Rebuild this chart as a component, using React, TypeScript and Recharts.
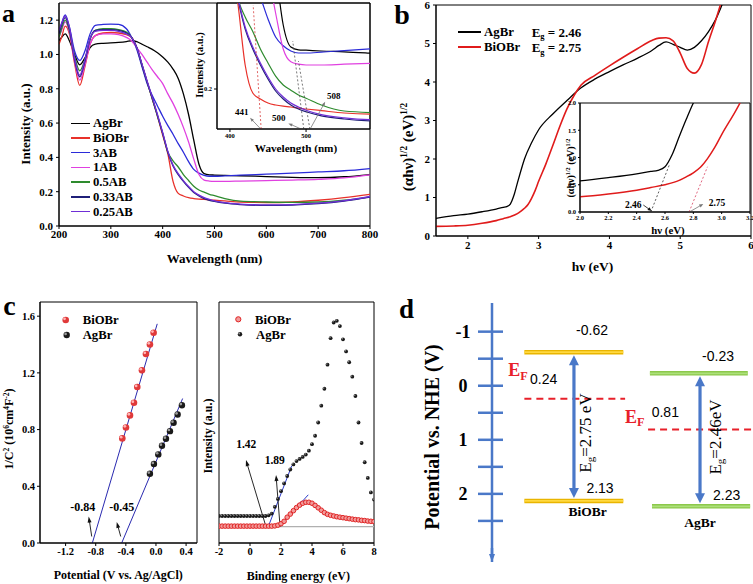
import React from 'react';
import { LineChart, Line, XAxis, YAxis, ReferenceLine, ReferenceArea, ComposedChart, Scatter } from 'recharts';

const SERIF = '"Liberation Serif", "Times New Roman", Times, serif';
const SANS = '"Liberation Sans", Arial, Helvetica, sans-serif';

/* ---------------- Panel a : UV-vis DRS ---------------- */
const aWavelength = [200, 205, 212, 220, 230, 240, 250, 260, 270, 285, 300, 315, 330, 340, 350, 360, 370, 380, 390, 400, 410, 420, 430, 440, 450, 460, 470, 480, 490, 500, 520, 550, 600, 650, 700, 750, 800];
const aAgBr = [1.08, 1.10, 1.12, 1.08, 1.00, 0.94, 0.98, 1.04, 1.06, 1.065, 1.067, 1.07, 1.075, 1.08, 1.075, 1.06, 1.045, 1.03, 1.01, 0.985, 0.955, 0.915, 0.86, 0.77, 0.65, 0.50, 0.36, 0.305, 0.298, 0.297, 0.295, 0.293, 0.288, 0.284, 0.282, 0.287, 0.30];
const aBiOBr = [1.06, 1.10, 1.165, 1.12, 0.95, 0.82, 0.93, 1.06, 1.11, 1.125, 1.128, 1.125, 1.115, 1.10, 1.04, 0.94, 0.84, 0.74, 0.64, 0.53, 0.42, 0.26, 0.19, 0.175, 0.165, 0.16, 0.157, 0.155, 0.152, 0.15, 0.146, 0.14, 0.137, 0.14, 0.15, 0.165, 0.185];
const a3AB = [1.13, 1.18, 1.23, 1.16, 1.02, 0.965, 1.02, 1.12, 1.17, 1.175, 1.177, 1.175, 1.15, 1.10, 1.03, 0.93, 0.83, 0.76, 0.70, 0.64, 0.585, 0.535, 0.48, 0.43, 0.375, 0.33, 0.308, 0.295, 0.29, 0.29, 0.292, 0.296, 0.302, 0.308, 0.315, 0.322, 0.335];
const a1AB = [1.10, 1.14, 1.19, 1.13, 0.96, 0.85, 0.94, 1.06, 1.11, 1.12, 1.12, 1.115, 1.10, 1.08, 1.04, 1.00, 0.955, 0.91, 0.87, 0.83, 0.77, 0.715, 0.65, 0.575, 0.49, 0.39, 0.30, 0.268, 0.262, 0.26, 0.26, 0.262, 0.265, 0.268, 0.272, 0.28, 0.298];
const a05AB = [1.10, 1.15, 1.20, 1.14, 0.99, 0.905, 0.97, 1.09, 1.14, 1.15, 1.15, 1.145, 1.13, 1.10, 1.04, 0.94, 0.84, 0.74, 0.64, 0.54, 0.43, 0.38, 0.344, 0.30, 0.265, 0.232, 0.21, 0.197, 0.185, 0.177, 0.16, 0.145, 0.14, 0.138, 0.14, 0.15, 0.17];
const a033AB = [1.12, 1.17, 1.215, 1.15, 0.97, 0.87, 0.96, 1.09, 1.14, 1.145, 1.145, 1.14, 1.125, 1.10, 1.04, 0.94, 0.84, 0.745, 0.645, 0.54, 0.43, 0.35, 0.30, 0.26, 0.225, 0.195, 0.175, 0.16, 0.15, 0.143, 0.133, 0.125, 0.12, 0.122, 0.13, 0.145, 0.168];
const a025AB = [1.14, 1.18, 1.225, 1.16, 0.98, 0.88, 0.97, 1.095, 1.135, 1.14, 1.14, 1.135, 1.12, 1.10, 1.04, 0.945, 0.845, 0.75, 0.65, 0.545, 0.435, 0.355, 0.305, 0.265, 0.23, 0.2, 0.18, 0.165, 0.155, 0.147, 0.136, 0.128, 0.123, 0.125, 0.133, 0.148, 0.172];
const aSeriesKeys = ['AgBr', 'BiOBr', 'AB3', 'AB1', 'AB05', 'AB033', 'AB025'];
const aSeriesLabels = ['AgBr', 'BiOBr', '3AB', '1AB', '0.5AB', '0.33AB', '0.25AB'];
const aXTicks = [200, 300, 400, 500, 600, 700, 800];
const aYTicks = [0, 0.2, 0.4, 0.6, 0.8, 1.0, 1.2];
const aInsetXTicks = [400, 500];
const aInsetYTicks = [0.2];
const aEdgeLabels = [441, 500, 508];
const aInsetTangents = [[441, 0.1, 430.5, 0.41], [497, 0.1, 482.5, 0.32], [505, 0.1, 490, 0.27]];
const aInsetLeaders = [[440.5, 0.1, 426.4, 0.128], [493.5, 0.1, 476.8, 0.114], [505.4, 0.1, 525.1, 0.168]];

/* ---------------- Panel b : Tauc plot ---------------- */
const bAgBrEnergy = [1.55, 1.8, 2.0, 2.2, 2.4, 2.5, 2.55, 2.6, 2.65, 2.7, 2.75, 2.8, 2.9, 3.0, 3.2, 3.4, 3.6, 3.8, 4.0, 4.2, 4.4, 4.6, 4.7, 4.8, 4.9, 5.0, 5.1, 5.2, 5.3, 5.4, 5.5, 5.6, 5.65];
const bAgBrValue = [0.46, 0.53, 0.57, 0.63, 0.70, 0.745, 0.765, 0.83, 1.05, 1.38, 1.7, 2.0, 2.42, 2.76, 3.17, 3.52, 3.85, 4.08, 4.27, 4.45, 4.62, 4.82, 4.95, 5.04, 4.98, 4.9, 4.83, 4.9, 5.07, 5.31, 5.62, 6.05, 6.3];
const bBiOBrEnergy = [1.55, 1.8, 2.0, 2.2, 2.4, 2.5, 2.6, 2.7, 2.75, 2.8, 2.85, 2.9, 2.95, 3.0, 3.1, 3.2, 3.3, 3.4, 3.5, 3.6, 3.8, 4.0, 4.2, 4.4, 4.6, 4.7, 4.8, 4.9, 5.0, 5.1, 5.2, 5.3, 5.4, 5.5, 5.6];
const bBiOBrValue = [0.25, 0.26, 0.28, 0.33, 0.40, 0.45, 0.50, 0.58, 0.645, 0.72, 0.82, 0.98, 1.18, 1.42, 1.86, 2.35, 2.85, 3.3, 3.65, 3.92, 4.18, 4.42, 4.65, 4.87, 5.08, 5.14, 5.15, 5.07, 4.75, 4.35, 4.23, 4.45, 5.05, 5.6, 6.2];
const bXTicks = [2, 3, 4, 5, 6];
const bYTicks = [0, 1, 2, 3, 4, 5, 6];
const bInsetXTicks = [2.0, 2.2, 2.4, 2.6, 2.8, 3.0, 3.2];
const bInsetYTicks = [0, 0.5, 1.0, 1.5, 2.0];
const bGaps = [2.46, 2.75];
const bInsetTangents = [[2.5, 0, 2.63, 0.86], [2.77, 0, 2.9, 0.83]];
const bInsetLeaders = [[2.447, 0.128, 2.506, 0.018], [2.776, 0.006, 2.87, 0.147]];

/* ---------------- Panel c : Mott-Schottky & VB-XPS ---------------- */
const cPotBiOBr = [-0.447, -0.398, -0.345, -0.292, -0.248, -0.186, -0.133, -0.080, -0.031];
const cInvBiOBr = [0.738, 0.815, 0.900, 0.989, 1.100, 1.218, 1.333, 1.400, 1.483];
const cPotAgBr = [-0.080, -0.027, 0.031, 0.080, 0.133, 0.186, 0.234, 0.288, 0.345];
const cInvAgBr = [0.489, 0.557, 0.625, 0.686, 0.735, 0.789, 0.848, 0.906, 0.972];
const cFlatBand = [-0.84, -0.45];
const cFitLines = [[-0.845, 0, 0.017, 1.546], [-0.455, 0, 0.354, 1.019]];
const cMsArrows = [[-0.853, 0.046, -0.893, 0.187], [-0.468, 0.046, -0.521, 0.148]];
const cMsXTicks = [-1.2, -0.8, -0.4, 0, 0.4];
const cMsYTicks = [0, 0.4, 0.8, 1.2, 1.6];

const cEnergy = [-2, -1.8, -1.6, -1.4, -1.2, -1, -0.8, -0.6, -0.4, -0.2, 0, 0.2, 0.4, 0.6, 0.8, 1, 1.2, 1.4, 1.6, 1.8, 2, 2.2, 2.4, 2.6, 2.8, 3, 3.2, 3.4, 3.6, 3.8, 4, 4.2, 4.4, 4.6, 4.8, 5, 5.2, 5.4, 5.6, 5.8, 6, 6.2, 6.4, 6.6, 6.8, 7, 7.2, 7.4, 7.6, 7.8, 8];
const cBiOBrVB = [0.07, 0.07, 0.07, 0.07, 0.07, 0.07, 0.07, 0.07, 0.07, 0.07, 0.07, 0.07, 0.07, 0.07, 0.07, 0.07, 0.07, 0.07, 0.071, 0.074, 0.08, 0.09, 0.107, 0.12, 0.134, 0.147, 0.157, 0.165, 0.169, 0.169, 0.165, 0.156, 0.146, 0.136, 0.126, 0.119, 0.115, 0.112, 0.109, 0.107, 0.105, 0.103, 0.101, 0.099, 0.097, 0.096, 0.094, 0.093, 0.091, 0.09, 0.089];
const cAgBrVB = [0.112, 0.112, 0.112, 0.112, 0.112, 0.112, 0.112, 0.112, 0.112, 0.112, 0.112, 0.112, 0.112, 0.112, 0.112, 0.112, 0.115, 0.122, 0.15, 0.183, 0.215, 0.247, 0.278, 0.305, 0.326, 0.34, 0.349, 0.357, 0.367, 0.383, 0.41, 0.445, 0.5, 0.57, 0.64, 0.74, 0.85, 0.915, 0.922, 0.9, 0.845, 0.795, 0.75, 0.69, 0.61, 0.5, 0.415, 0.335, 0.27, 0.21, 0.18];
const cVBEdges = [1.42, 1.89];
const cVbTangents = [[1.18, 0.068, 2.69, 0.32], [1.89, 0.068, 3.76, 0.2]];
const cVbPurple = [1.9, 0.068, 3.3, 0.172];
const cVbBaseline = [1.3, 0.068, 8, 0.068];
const cVbArrows = [[1.03, 0.068, -0.26, 0.344], [1.94, 0.068, 1.68, 0.282]];
const cVbXTicks = [-2, 0, 2, 4, 6, 8];

/* ---------------- Panel d : band diagram ---------------- */
const dMaterials = ['BiOBr', 'AgBr'];
const dCB = [-0.62, -0.23];
const dVB = [2.13, 2.23];
const dEF = [0.24, 0.81];
const dEg = [2.75, 2.46];
const dTicks = [-1, -0.5, 0, 0.5, 1, 1.5, 2, 2.5];

/* ---------------- styles ---------------- */
const A_COLORS: Record<string, string> = {
  AgBr: '#000000', BiOBr: '#e8312a', AB3: '#2b2bd9', AB1: '#e040e0', AB05: '#2e8b2e', AB033: '#1f1f78', AB025: '#6f2ed6',
};
const AX = { stroke: '#000' };
const tk = (size: number) => ({ fontSize: size, fontFamily: SERIF, fontWeight: 700, fill: '#000' });
const f1 = (v: number) => v.toFixed(1);
const D_BLUE = '#4a78c8';
const D_RED = '#e8202a';

const aRows = aWavelength.map((wl, i) => ({
  wl, AgBr: aAgBr[i], BiOBr: aBiOBr[i], AB3: a3AB[i], AB1: a1AB[i], AB05: a05AB[i], AB033: a033AB[i], AB025: a025AB[i],
}));
const bAgBrPts = bAgBrEnergy.map((x, i) => ({ x, y: bAgBrValue[i] }));
const bBiOBrPts = bBiOBrEnergy.map((x, i) => ({ x, y: bBiOBrValue[i] }));
const cMsBiOBr = cPotBiOBr.map((x, i) => ({ x, y: cInvBiOBr[i] }));
const cMsAgBr = cPotAgBr.map((x, i) => ({ x, y: cInvAgBr[i] }));
const cVbBiOBr = cEnergy.map((x, i) => ({ x, y: cBiOBrVB[i] }));
const cVbAgBr = cEnergy.map((x, i) => ({ x, y: cAgBrVB[i] }));

/* ---------------- helpers ---------------- */
type ArrowOpts = { color: string; width: number; headLen?: number; headW?: number; heads?: 'end' | 'both' | 'none'; inset?: number; dash?: string };
function arrowShape(o: ArrowOpts) {
  const { color, width, headLen = 6, headW = 5, heads = 'end', inset = 0, dash } = o;
  return (p: any) => {
    let x1 = Number(p.x1), y1 = Number(p.y1), x2 = Number(p.x2), y2 = Number(p.y2);
    const len = Math.hypot(x2 - x1, y2 - y1) || 1;
    const ux = (x2 - x1) / len, uy = (y2 - y1) / len;
    x1 += ux * inset; y1 += uy * inset; x2 -= ux * inset; y2 -= uy * inset;
    const nx = -uy, ny = ux;
    const tri = (tx: number, ty: number, dx: number, dy: number) => {
      const bx = tx - dx * headLen, by = ty - dy * headLen;
      return `${tx},${ty} ${bx + (nx * headW) / 2},${by + (ny * headW) / 2} ${bx - (nx * headW) / 2},${by - (ny * headW) / 2}`;
    };
    const lx1 = heads === 'both' ? x1 + ux * headLen * 0.7 : x1;
    const ly1 = heads === 'both' ? y1 + uy * headLen * 0.7 : y1;
    const lx2 = heads !== 'none' ? x2 - ux * headLen * 0.7 : x2;
    const ly2 = heads !== 'none' ? y2 - uy * headLen * 0.7 : y2;
    return (
      <g>
        <line x1={lx1} y1={ly1} x2={lx2} y2={ly2} stroke={color} strokeWidth={width} strokeDasharray={dash} />
        {heads !== 'none' && <polygon points={tri(x2, y2, ux, uy)} fill={color} />}
        {heads === 'both' && <polygon points={tri(x1, y1, -ux, -uy)} fill={color} />}
      </g>
    );
  };
}
const bandShape = (outer: string, inner: string) => (p: any) => (
  <g>
    <line x1={p.x1} y1={p.y1} x2={p.x2} y2={p.y2} stroke={outer} strokeWidth={4.5} />
    <line x1={p.x1} y1={p.y1} x2={p.x2} y2={p.y2} stroke={inner} strokeWidth={1.8} />
  </g>
);
const ballShape = (base: string, hi: string, r: number) => (p: any) => (
  <g>
    <circle cx={p.cx} cy={p.cy} r={r} fill={base} />
    <circle cx={p.cx - r * 0.35} cy={p.cy - r * 0.35} r={r * 0.42} fill={hi} />
  </g>
);
const ringShape = (stroke: string, fill: string, r: number) => (p: any) => (
  <circle cx={p.cx} cy={p.cy} r={r} fill={fill} stroke={stroke} strokeWidth={1} />
);

type TP = { x: number; y: number; size?: number; bold?: boolean; color?: string; anchor?: 'start' | 'middle' | 'end'; rot?: boolean; font?: string; children: React.ReactNode };
function T({ x, y, size = 12, bold = true, color = '#000', anchor = 'middle', rot = false, font = SERIF, children }: TP) {
  const tx = anchor === 'start' ? '0%' : anchor === 'end' ? '-100%' : '-50%';
  return (
    <div
      style={{
        position: 'absolute', left: x, top: y,
        transform: rot ? 'translate(-50%,-50%) rotate(-90deg)' : `translate(${tx},-50%)`,
        fontSize: size, fontWeight: bold ? 700 : 400, fontFamily: font, color, whiteSpace: 'nowrap', lineHeight: 1,
      }}
    >
      {children}
    </div>
  );
}
const Sup = ({ children }: { children: React.ReactNode }) => (
  <span style={{ fontSize: '0.62em', position: 'relative', top: '-0.6em' }}>{children}</span>
);
const Sub = ({ children, s = 0.65 }: { children: React.ReactNode; s?: number }) => (
  <span style={{ fontSize: `${s}em`, position: 'relative', top: '0.3em' }}>{children}</span>
);
const Abs = ({ left, top, children }: { left: number; top: number; children: React.ReactNode }) => (
  <div style={{ position: 'absolute', left, top }}>{children}</div>
);

/* ---------------- charts ---------------- */
function PanelA() {
  return (
    <Abs left={0} top={0}>
      <LineChart width={386} height={290} data={aRows} margin={{ top: 3, right: 16, bottom: 34, left: 0 }}>
        <XAxis dataKey="wl" type="number" domain={[200, 800]} ticks={aXTicks} interval={0} allowDataOverflow height={30} tickSize={3} tickMargin={1} tick={tk(11)} axisLine={AX} tickLine={AX} />
        <YAxis type="number" domain={[0, 1.3]} ticks={aYTicks} interval={0} allowDataOverflow width={59} tickSize={3} tickMargin={3} tick={tk(11)} tickFormatter={f1} axisLine={AX} tickLine={AX} />
        <ReferenceArea x1={200} x2={800} y1={0} y2={1.3} fill="none" stroke="#000" strokeWidth={1} ifOverflow="visible" />
        {aSeriesKeys.map((k) => (
          <Line key={k} dataKey={k} type="monotone" stroke={A_COLORS[k]} strokeWidth={1.3} dot={false} isAnimationActive={false} />
        ))}
      </LineChart>
    </Abs>
  );
}

function PanelAInset() {
  return (
    <Abs left={190} top={0}>
      <LineChart width={185} height={160} data={aRows} margin={{ top: 3, right: 5, bottom: 15, left: 0 }}>
        <XAxis dataKey="wl" type="number" domain={[383, 584]} ticks={aInsetXTicks} interval={0} allowDataOverflow height={16} tickSize={3} tickMargin={1} tick={tk(6.5)} axisLine={AX} tickLine={AX} />
        <YAxis type="number" domain={[0.1, 0.415]} ticks={aInsetYTicks} interval={0} allowDataOverflow width={27} tickSize={3} tickMargin={2} tick={tk(6.5)} tickFormatter={f1} axisLine={AX} tickLine={AX} />
        <ReferenceArea x1={383} x2={584} y1={0.1} y2={0.415} fill="none" stroke="#000" strokeWidth={1} ifOverflow="visible" />
        {aSeriesKeys.map((k) => (
          <Line key={k} dataKey={k} type="monotone" stroke={A_COLORS[k]} strokeWidth={1.2} dot={false} isAnimationActive={false} />
        ))}
        {aInsetTangents.map((t, i) => (
          <ReferenceLine key={'t' + i} segment={[{ x: t[0], y: t[1] }, { x: t[2], y: t[3] }]} stroke={i === 0 ? '#d84040' : '#555'} strokeWidth={0.8} strokeDasharray="2 2" ifOverflow="visible" />
        ))}
        {aInsetLeaders.map((t, i) => (
          <ReferenceLine key={'l' + i} segment={[{ x: t[0], y: t[1] }, { x: t[2], y: t[3] }]} stroke="#777" ifOverflow="visible" shape={arrowShape({ color: '#777', width: 0.8, headLen: 4, headW: 3 })} />
        ))}
      </LineChart>
    </Abs>
  );
}

function PanelB() {
  return (
    <Abs left={375} top={0}>
      <LineChart width={378} height={290} margin={{ top: 5, right: 2, bottom: 24, left: 0 }}>
        <XAxis dataKey="x" type="number" domain={[1.55, 6]} ticks={bXTicks} interval={0} allowDataOverflow height={30} tickSize={3} tickMargin={2} tick={tk(11)} axisLine={AX} tickLine={AX} />
        <YAxis dataKey="y" type="number" domain={[0, 6]} ticks={bYTicks} interval={0} allowDataOverflow width={61} tickSize={3} tickMargin={3} tick={tk(11)} axisLine={AX} tickLine={AX} />
        <ReferenceArea x1={1.55} x2={6} y1={0} y2={6} fill="none" stroke="#000" strokeWidth={1} ifOverflow="visible" />
        <Line data={bAgBrPts} dataKey="y" type="monotone" stroke="#000" strokeWidth={1.3} dot={false} isAnimationActive={false} />
        <Line data={bBiOBrPts} dataKey="y" type="monotone" stroke="#e01b1b" strokeWidth={1.6} dot={false} isAnimationActive={false} />
      </LineChart>
    </Abs>
  );
}

function PanelBInset() {
  return (
    <Abs left={550} top={95}>
      <LineChart width={203} height={145} margin={{ top: 8, right: 3, bottom: 14, left: 0 }}>
        <XAxis dataKey="x" type="number" domain={[2.0, 3.2]} ticks={bInsetXTicks} interval={0} allowDataOverflow height={14} tickSize={2} tickMargin={1} tick={tk(6.5)} tickFormatter={f1} axisLine={AX} tickLine={AX} />
        <YAxis dataKey="y" type="number" domain={[0, 2]} ticks={bInsetYTicks} interval={0} allowDataOverflow width={30} tickSize={2} tickMargin={2} tick={tk(6.5)} tickFormatter={f1} axisLine={AX} tickLine={AX} />
        <ReferenceArea x1={2.0} x2={3.2} y1={0} y2={2} fill="none" stroke="#000" strokeWidth={1} ifOverflow="visible" />
        <Line data={bAgBrPts} dataKey="y" type="monotone" stroke="#000" strokeWidth={1.3} dot={false} isAnimationActive={false} />
        <Line data={bBiOBrPts} dataKey="y" type="monotone" stroke="#e01b1b" strokeWidth={1.5} dot={false} isAnimationActive={false} />
        {bInsetTangents.map((t, i) => (
          <ReferenceLine key={'t' + i} segment={[{ x: t[0], y: t[1] }, { x: t[2], y: t[3] }]} stroke={i === 0 ? '#333' : '#d84060'} strokeWidth={0.8} strokeDasharray="2 2" ifOverflow="visible" />
        ))}
        {bInsetLeaders.map((t, i) => (
          <ReferenceLine key={'l' + i} segment={[{ x: t[0], y: t[1] }, { x: t[2], y: t[3] }]} stroke="#333" ifOverflow="visible" shape={arrowShape({ color: i === 0 ? '#111' : '#777', width: 0.8, headLen: 4, headW: 3.5 })} />
        ))}
      </LineChart>
    </Abs>
  );
}

function PanelCLeft() {
  return (
    <Abs left={0} top={290}>
      <ComposedChart width={210} height={294} margin={{ top: 12, right: 13, bottom: 21, left: 0 }}>
        <XAxis dataKey="x" type="number" domain={[-1.54, 0.545]} ticks={cMsXTicks} interval={0} allowDataOverflow height={20} tickSize={3} tickMargin={2} tick={tk(10.5)} tickFormatter={f1} axisLine={AX} tickLine={AX} />
        <YAxis dataKey="y" type="number" domain={[0, 1.7]} ticks={cMsYTicks} interval={0} allowDataOverflow width={40} tickSize={3} tickMargin={2} tick={tk(10.5)} tickFormatter={f1} axisLine={AX} tickLine={AX} />
        <ReferenceArea x1={-1.54} x2={0.545} y1={0} y2={1.7} fill="none" stroke="#000" strokeWidth={1} ifOverflow="visible" />
        {cFitLines.map((t, i) => (
          <ReferenceLine key={'f' + i} segment={[{ x: t[0], y: t[1] }, { x: t[2], y: t[3] }]} stroke="#2a2ab0" strokeWidth={1} ifOverflow="visible" />
        ))}
        {cMsArrows.map((t, i) => (
          <ReferenceLine key={'a' + i} segment={[{ x: t[0], y: t[1] }, { x: t[2], y: t[3] }]} stroke="#000" ifOverflow="visible" shape={arrowShape({ color: '#111', width: 0.9, headLen: 6, headW: 4 })} />
        ))}
        <Scatter data={cMsBiOBr} isAnimationActive={false} shape={ballShape('#e0393a', '#ffb4b4', 3.3)} />
        <Scatter data={cMsAgBr} isAnimationActive={false} shape={ballShape('#1a1a1a', '#9a9a9a', 3.2)} />
      </ComposedChart>
    </Abs>
  );
}

function PanelCRight() {
  return (
    <Abs left={210} top={290}>
      <ComposedChart width={170} height={294} margin={{ top: 12, right: 6, bottom: 21, left: 9 }}>
        <XAxis dataKey="x" type="number" domain={[-2, 8]} ticks={cVbXTicks} interval={0} allowDataOverflow height={20} tickSize={3} tickMargin={2} tick={tk(10.5)} axisLine={AX} tickLine={AX} />
        <YAxis dataKey="y" type="number" domain={[0, 1]} hide allowDataOverflow />
        <ReferenceArea x1={-2} x2={8} y1={0} y2={1} fill="none" stroke="#000" strokeWidth={1} ifOverflow="visible" />
        <ReferenceLine segment={[{ x: cVbBaseline[0], y: cVbBaseline[1] }, { x: cVbBaseline[2], y: cVbBaseline[3] }]} stroke="#b0b0b0" strokeWidth={1.2} ifOverflow="visible" />
        <Scatter data={cVbAgBr} isAnimationActive={false} shape={ballShape('#1a1a1a', '#8a8a8a', 1.9)} />
        <Scatter data={cVbBiOBr} isAnimationActive={false} shape={ringShape('#e02424', '#f29a9a', 2.3)} />
        <ReferenceLine segment={[{ x: cVbPurple[0], y: cVbPurple[1] }, { x: cVbPurple[2], y: cVbPurple[3] }]} stroke="#a02aa0" strokeWidth={1.2} ifOverflow="visible" />
        {cVbTangents.map((t, i) => (
          <ReferenceLine key={'t' + i} segment={[{ x: t[0], y: t[1] }, { x: t[2], y: t[3] }]} stroke="#2a3ac8" strokeWidth={1} ifOverflow="visible" />
        ))}
        {cVbArrows.map((t, i) => (
          <ReferenceLine key={'a' + i} segment={[{ x: t[0], y: t[1] }, { x: t[2], y: t[3] }]} stroke="#000" ifOverflow="visible" shape={arrowShape({ color: '#111', width: 0.9, headLen: 6, headW: 4 })} />
        ))}
      </ComposedChart>
    </Abs>
  );
}

const D_COL = [
  { cb: [12.4, 50.3], vb: [12.4, 50.3], ef: [12.4, 51], arrow: 31.4, outer: '#e9b500', inner: '#ffd940' },
  { cb: [60.5, 98], vb: [61.3, 98.9], ef: [59.8, 99.6], arrow: 79.7, outer: '#8cc84b', inner: '#ace07a' },
];

const DTick = (p: any) => {
  const { x, y, payload } = p;
  const v = payload.value as number;
  return (
    <g>
      <line x1={x - 14} x2={x + 11} y1={y} y2={y} stroke={D_BLUE} strokeWidth={2.5} />
      {Number.isInteger(v) && (
        <text x={x - 29} y={y} textAnchor="middle" dominantBaseline="central" fontFamily={SERIF} fontWeight={700} fontSize={18} fill="#000">
          {String(v)}
        </text>
      )}
    </g>
  );
};

function PanelD() {
  return (
    <Abs left={375} top={290}>
      <ComposedChart width={378} height={294} margin={{ top: 13, right: 0, bottom: 22, left: 0 }}>
        <XAxis dataKey="x" type="number" domain={[0, 100]} hide allowDataOverflow />
        <YAxis type="number" domain={[-1.53, 3.26]} reversed ticks={dTicks} interval={0} allowDataOverflow width={117} tickSize={0} tickMargin={0} tickLine={false} axisLine={{ stroke: D_BLUE, strokeWidth: 2.5 }} tick={(p: any) => <DTick {...p} />} />
        <ReferenceLine segment={[{ x: 0, y: 3.0 }, { x: 0, y: 3.26 }]} ifOverflow="visible" shape={arrowShape({ color: D_BLUE, width: 2.5, headLen: 8, headW: 6 })} />
        {dMaterials.map((m, i) => (
          <ReferenceLine key={'cb' + m} segment={[{ x: D_COL[i].cb[0], y: dCB[i] }, { x: D_COL[i].cb[1], y: dCB[i] }]} ifOverflow="visible" shape={bandShape(D_COL[i].outer, D_COL[i].inner)} />
        ))}
        {dMaterials.map((m, i) => (
          <ReferenceLine key={'vb' + m} segment={[{ x: D_COL[i].vb[0], y: dVB[i] }, { x: D_COL[i].vb[1], y: dVB[i] }]} ifOverflow="visible" shape={bandShape(D_COL[i].outer, D_COL[i].inner)} />
        ))}
        {dMaterials.map((m, i) => (
          <ReferenceLine key={'ef' + m} segment={[{ x: D_COL[i].ef[0], y: dEF[i] }, { x: D_COL[i].ef[1], y: dEF[i] }]} stroke={D_RED} strokeWidth={2} strokeDasharray="7 5" ifOverflow="visible" />
        ))}
        {dMaterials.map((m, i) => (
          <ReferenceLine key={'eg' + m} segment={[{ x: D_COL[i].arrow, y: dCB[i] }, { x: D_COL[i].arrow, y: dVB[i] }]} ifOverflow="visible" shape={arrowShape({ color: D_BLUE, width: 3.2, headLen: 10, headW: 10, heads: 'both', inset: 3 })} />
        ))}
      </ComposedChart>
    </Abs>
  );
}

/* ---------------- overlays (text) ---------------- */
function Overlays() {
  const legendY = [123.3, 138, 152.7, 167.4, 182.1, 196.8, 211.5];
  return (
    <>
      {/* panel letters */}
      <T x={8.5} y={14} size={26}>a</T>
      <T x={402} y={15} size={28}>b</T>
      <T x={9.5} y={306} size={28}>c</T>
      <T x={406.5} y={308.5} size={27}>d</T>

      {/* panel a */}
      <T x={214.5} y={258.3} size={13}>Wavelength (nm)</T>
      <T x={25} y={124} size={13} rot>Intensity (a.u.)</T>
      {aSeriesKeys.map((k, i) => (
        <React.Fragment key={k}>
          <div style={{ position: 'absolute', left: 71, top: legendY[i] - 0.75, width: 19, height: 1.5, background: A_COLORS[k] }} />
          <T x={93} y={legendY[i]} size={12.7} anchor="start">{aSeriesLabels[i]}</T>
        </React.Fragment>
      ))}
      <T x={296} y={149} size={11.2}>Wavelength (nm)</T>
      <T x={200} y={65} size={10.5} rot>Intensity (a.u.)</T>
      <T x={241.7} y={111.7} size={9}>{String(aEdgeLabels[0])}</T>
      <T x={278.8} y={118.3} size={9}>{String(aEdgeLabels[1])}</T>
      <T x={333.7} y={95.7} size={9}>{String(aEdgeLabels[2])}</T>

      {/* panel b */}
      <T x={592.5} y={266.7} size={13.5}>hν (eV)</T>
      <T x={408} y={147} size={15} rot>(αhν)<Sup>1/2</Sup> (eV)<Sup>1/2</Sup></T>
      <div style={{ position: 'absolute', left: 458, top: 31, width: 23, height: 1.5, background: '#000' }} />
      <div style={{ position: 'absolute', left: 458, top: 46.2, width: 23, height: 1.6, background: '#e01b1b' }} />
      <T x={484} y={31.7} size={12.8} anchor="start">AgBr</T>
      <T x={484} y={47} size={12.8} anchor="start">BiOBr</T>
      <T x={531.7} y={31.7} size={13} anchor="start">E<Sub>g</Sub> = {bGaps[0].toFixed(2)}</T>
      <T x={531.7} y={47} size={13} anchor="start">E<Sub>g</Sub> = {bGaps[1].toFixed(2)}</T>
      <T x={668} y={230} size={10.8}>hν (eV)</T>
      <T x={571} y={168} size={10} rot>(αhν)<Sup>1/2</Sup> (eV)<Sup>1/2</Sup></T>
      <T x={633.3} y={206} size={9.5}>{bGaps[0].toFixed(2)}</T>
      <T x={717} y={204} size={9.5}>{bGaps[1].toFixed(2)}</T>

      {/* panel c */}
      <T x={118.3} y={575} size={12}>Potential (V vs. Ag/AgCl)</T>
      <T x={8.5} y={429} size={12} rot>1/C<Sup>2</Sup> (10<Sup>6</Sup>cm<Sup>4</Sup>F<Sup>-2</Sup>)</T>
      <T x={298.3} y={576} size={12}>Binding energy (eV)</T>
      <T x={208.3} y={436} size={12} rot>Intensity (a.u.)</T>
      <T x={82.8} y={506.7} size={12}>{cFlatBand[0].toFixed(2)}</T>
      <T x={121.7} y={506.7} size={12}>{cFlatBand[1].toFixed(2)}</T>
      <T x={246.3} y={445} size={11.5}>{cVBEdges[0].toFixed(2)}</T>
      <T x={274.7} y={461} size={11.5}>{cVBEdges[1].toFixed(2)}</T>
      <svg style={{ position: 'absolute', left: 0, top: 300 }} width={260} height={45}>
        {ballShape('#e0393a', '#ffb4b4', 3.3)({ cx: 65.7, cy: 20 })}
        {ballShape('#1a1a1a', '#9a9a9a', 3.2)({ cx: 66.7, cy: 35 })}
        {ringShape('#e02424', '#f29a9a', 2.6)({ cx: 238.3, cy: 19.3 })}
        {ballShape('#1a1a1a', '#8a8a8a', 2.2)({ cx: 240, cy: 34.3 })}
      </svg>
      <T x={82.7} y={320} size={12.7} anchor="start">BiOBr</T>
      <T x={82.7} y={335} size={12.7} anchor="start">AgBr</T>
      <T x={255} y={320} size={12.7} anchor="start">BiOBr</T>
      <T x={256} y={334.5} size={12.7} anchor="start">AgBr</T>

      {/* panel d */}
      <T x={431.7} y={436.7} size={20} rot>Potential vs. NHE (V)</T>
      <T x={592} y={330} size={14} bold={false} font={SANS}>{dCB[0].toFixed(2)}</T>
      <T x={718} y={356} size={14} bold={false} font={SANS}>{dCB[1].toFixed(2)}</T>
      <T x={600} y={488.3} size={14} bold={false} font={SANS}>{dVB[0].toFixed(2)}</T>
      <T x={726.7} y={495} size={14} bold={false} font={SANS}>{dVB[1].toFixed(2)}</T>
      <T x={587.7} y={511.7} size={13.5}>{dMaterials[0]}</T>
      <T x={700} y={523.3} size={13.5}>{dMaterials[1]}</T>
      <T x={508.3} y={370} size={18} color={D_RED} anchor="start">E<Sub s={0.68}>F</Sub></T>
      <T x={530} y={379.3} size={14} bold={false} font={SANS} anchor="start">{dEF[0].toFixed(2)}</T>
      <T x={625} y={416.7} size={18} color={D_RED} anchor="start">E<Sub s={0.68}>F</Sub></T>
      <T x={651.7} y={411.7} size={14} bold={false} font={SANS} anchor="start">{dEF[1].toFixed(2)}</T>
      <T x={585} y={433.3} size={17} bold={false} rot>E<Sub>g</Sub>={dEg[0].toFixed(2)} eV</T>
      <T x={715} y={436.7} size={17} bold={false} rot>E<Sub>g</Sub>={dEg[1].toFixed(2)}eV</T>
    </>
  );
}

export default function App() {
  return (
    <div style={{ position: 'absolute', left: 0, top: 0, width: 753, height: 584, background: '#fff', overflow: 'hidden' }}>
      <PanelA />
      <PanelAInset />
      <PanelB />
      <PanelBInset />
      <PanelCLeft />
      <PanelCRight />
      <PanelD />
      <Overlays />
    </div>
  );
}
